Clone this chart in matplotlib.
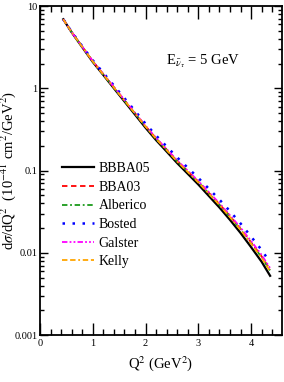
import numpy as np
import matplotlib
matplotlib.use('Agg')
import matplotlib.pyplot as plt
from matplotlib.ticker import LogLocator, MultipleLocator, NullFormatter, FixedLocator, FixedFormatter

plt.rcParams['font.family'] = ['Liberation Serif', 'DejaVu Serif']
plt.rcParams['mathtext.fontset'] = 'stix'

# Q^2 grid (GeV^2)
q2 = [0.44, 0.6, 0.8, 1.0, 1.2, 1.4, 1.6, 1.8, 2.0, 2.2, 2.4, 2.6, 2.8,
      3.0, 3.2, 3.4, 3.6, 3.8, 4.0, 4.2, 4.36]

# dsigma/dQ^2 in 1e-41 cm^2/GeV^2
bbba05 = [6.92, 4.79, 3.16, 2.09, 1.45, 1.00, 0.692, 0.479, 0.331, 0.234, 0.170,
          0.123, 0.0912, 0.0676, 0.0490, 0.0355, 0.0251, 0.0174, 0.0117, 0.00776, 0.00525]
bba03 = [6.92, 4.81, 3.20, 2.13, 1.48, 1.03, 0.716, 0.499, 0.347, 0.246, 0.180,
         0.131, 0.0981, 0.0733, 0.0535, 0.0391, 0.0279, 0.0196, 0.0134, 0.00903, 0.00624]
alberico = [6.92, 4.80, 3.19, 2.12, 1.47, 1.02, 0.711, 0.495, 0.344, 0.243, 0.178,
            0.129, 0.0968, 0.0722, 0.0526, 0.0384, 0.0274, 0.0192, 0.0131, 0.00880, 0.00605]
bosted = [6.92, 4.85, 3.25, 2.19, 1.54, 1.08, 0.758, 0.531, 0.371, 0.266, 0.196,
          0.144, 0.108, 0.0813, 0.0600, 0.0443, 0.0320, 0.0227, 0.0157, 0.0108, 0.0076]
galster = [6.92, 4.82, 3.21, 2.14, 1.49, 1.04, 0.722, 0.503, 0.350, 0.249, 0.182,
           0.133, 0.0997, 0.0746, 0.0546, 0.0400, 0.0286, 0.0202, 0.0139, 0.00940, 0.00650]
kelly = [6.92, 4.80, 3.19, 2.12, 1.47, 1.02, 0.710, 0.494, 0.343, 0.242, 0.177,
         0.128, 0.0962, 0.0717, 0.0522, 0.0381, 0.0271, 0.0190, 0.0129, 0.00868, 0.00595]

fig = plt.figure(figsize=(2.84, 3.82), dpi=100)
ax = fig.add_axes([0.141, 0.123, 0.851, 0.861])

ax.plot(q2, bbba05, color='black', lw=1.6, ls='-', label='BBBA05')
ax.plot(q2, bba03, color='red', lw=1.3, ls=(0, (3, 2)), label='BBA03')
ax.plot(q2, alberico, color='#1a9a1a', lw=1.3, ls=(0, (3, 1.5, 1, 1.5)), label='Alberico')
ax.plot(q2, bosted, color='blue', lw=1.8, ls=(0, (1, 3)), label='Bosted')
ax.plot(q2, galster, color='magenta', lw=1.3, ls=(0, (3, 1.2, 1, 1.2, 1, 1.2)), label='Galster')
ax.plot(q2, kelly, color='orange', lw=1.3, ls=(0, (3, 1.5, 3, 1.5, 1, 1.5)), label='Kelly')

ax.set_yscale('log')
ax.set_xlim(0, 4.58)
ax.set_ylim(0.001, 10)

ax.xaxis.set_major_locator(MultipleLocator(1))
ax.xaxis.set_minor_locator(MultipleLocator(0.2))
ax.yaxis.set_major_locator(FixedLocator([0.001, 0.01, 0.1, 1, 10]))
ax.yaxis.set_major_formatter(FixedFormatter(['0.001', '0.01', '0.1', '1', '10']))
ax.yaxis.set_minor_locator(LogLocator(base=10, subs=np.arange(2, 10), numticks=20))
ax.yaxis.set_minor_formatter(NullFormatter())

ax.tick_params(axis='both', which='both', direction='in', top=True, right=True,
               width=1.0, labelsize=7.5)
ax.tick_params(axis='x', which='major', length=9, pad=3)
ax.tick_params(axis='x', which='minor', length=4)
ax.tick_params(axis='y', which='major', length=6, pad=2)
ax.tick_params(axis='y', which='minor', length=3)
for s in ax.spines.values():
    s.set_linewidth(1.3)

ax.set_xlabel(r'Q$^2$ (GeV$^2$)', fontsize=10.5, labelpad=4)
ax.set_ylabel(r'd$\sigma$/dQ$^2$  (10$^{-41}$ cm$^2$/GeV$^2$)', fontsize=10.5)
ax.yaxis.set_label_coords(-0.09, 0.5)

ax.text(0.52, 0.824, r'E$_{\bar{\nu}_\tau}$ = 5 GeV', transform=ax.transAxes,
        fontsize=10.5, va='baseline', ha='left')

ax.legend(loc='upper left', bbox_to_anchor=(0.09, 0.525), frameon=False,
          fontsize=10, handlelength=2.3, handletextpad=0.35, labelspacing=0.4,
          borderpad=0, borderaxespad=0)

fig.savefig('out.png', dpi=100)
